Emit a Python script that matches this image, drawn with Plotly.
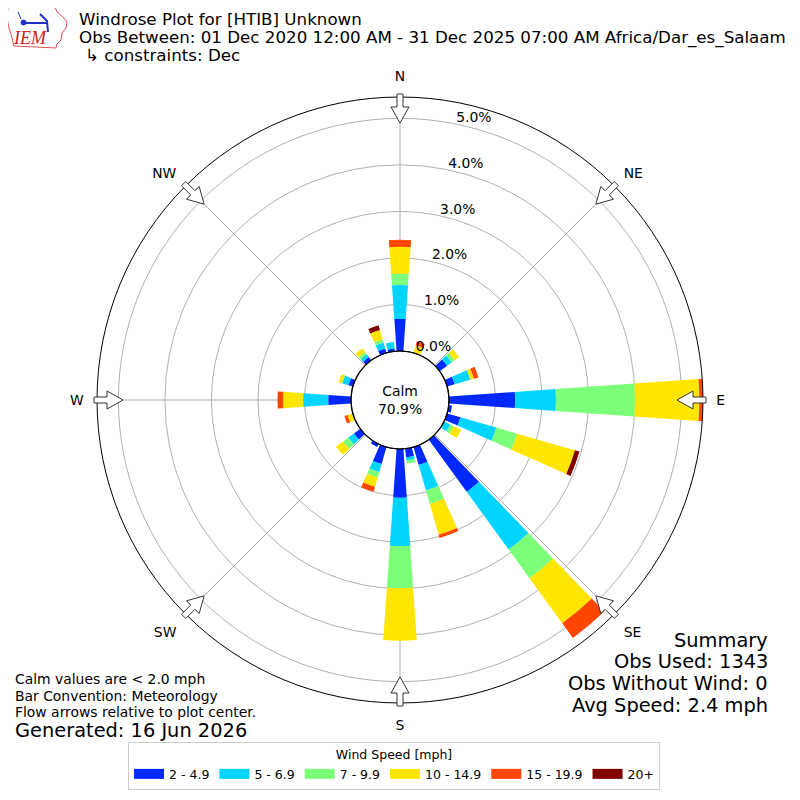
import math
import plotly.graph_objects as go

# wind direction sectors (deg, 0 = N, clockwise)
directions = list(range(0, 360, 10))

speed_bins = ["2 - 4.9", "5 - 6.9", "7 - 9.9", "10 - 14.9", "15 - 19.9", "20+"]
bin_colors = ["#0028ff", "#00d4ff", "#7cff79", "#ffe500", "#ff4600", "#800000"]

# percent of observations in each sector, one list per speed bin
pct_2_5 = [0.69, 0, 0, 0, 0, 0.20, 0, 0.17, 0, 1.42, 0.07, 0.30, 0, 0, 1.39, 0, 0.40, 0.19,
           1.05, 0, 0.38, 0.07, 0, 0.17, 0, 0, 0, 0.49, 0, 0.10, 0, 0, 0.09, 0, 0.10, 0.06]
pct_5_7 = [0.73, 0, 0, 0, 0, 0.12, 0, 0.35, 0, 0.88, 0, 0.80, 0.15, 0, 1.53, 0, 0.57, 0.06,
           1.04, 0, 0.18, 0, 0, 0.15, 0, 0, 0, 0.54, 0, 0.14, 0, 0, 0.07, 0, 0.13, 0.14]
pct_7_10 = [0.24, 0, 0, 0, 0, 0.08, 0, 0, 0, 1.70, 0, 0.47, 0.08, 0, 0.76, 0, 0.30, 0.07,
            0.90, 0, 0.12, 0, 0, 0.14, 0, 0, 0, 0, 0, 0, 0, 0, 0.06, 0, 0.07, 0]
pct_10_15 = [0.58, 0, 0.17, 0, 0, 0.12, 0, 0.08, 0, 1.38, 0, 1.29, 0.18, 0, 1.20, 0, 0.69, 0,
             1.13, 0, 0.21, 0, 0, 0.19, 0, 0.12, 0, 0.43, 0, 0.08, 0, 0, 0.10, 0, 0.21, 0]
pct_15_20 = [0.15, 0, 0.09, 0, 0, 0, 0, 0.10, 0, 0.08, 0, 0, 0, 0, 0.39, 0, 0.07, 0,
             0, 0, 0.11, 0, 0, 0, 0, 0.07, 0, 0.12, 0, 0, 0, 0, 0, 0, 0, 0]
pct_20_up = [0, 0, 0, 0, 0, 0, 0, 0, 0, 0, 0, 0.10, 0, 0, 0, 0, 0, 0,
             0, 0, 0, 0, 0, 0, 0, 0, 0, 0, 0, 0, 0, 0, 0, 0, 0.11, 0]

compass_vals = [0, 45, 90, 135, 180, 225, 270, 315]
compass_text = ["N", "NE", "E", "SE", "S", "SW", "W", "NW"]
rticks = [0, 1, 2, 3, 4, 5]

calm_pct = 70.9
obs_used = 1343
obs_nowind = 0
avg_speed = 2.4

all_bins = [pct_2_5, pct_5_7, pct_7_10, pct_10_15, pct_15_20, pct_20_up]

# page has an 8px body margin, so the figure is 784 wide and starts at 8
OFF = 8
W = 784


def P(x, y):
    # picture pixel -> paper coords
    return (x - OFF) / W, 1 - (y - OFF) / W


fig = go.Figure()
for name, color, vals in zip(speed_bins, bin_colors, all_bins):
    fig.add_trace(go.Barpolar(r=vals, theta=directions, width=8, name=name, showlegend=False,
                              marker=dict(color=color, line=dict(width=0))))
# legend swatches (wide patches like the original)
for name, color in zip(speed_bins, bin_colors):
    fig.add_trace(go.Scatterpolar(r=[None], theta=[None], mode="lines", name=name,
                                  line=dict(color=color, width=11)))

R_OUT = 303
HOLE = 49 / R_OUT
dom = [(400 - OFF - R_OUT) / W, (400 - OFF + R_OUT) / W]
rmax = max(sum(v[i] for v in all_bins) for i in range(len(directions)))
RANGLE = 80

fig.update_layout(
    width=W, height=W,
    margin=dict(l=0, r=0, t=0, b=0),
    paper_bgcolor="white",
    font=dict(family="DejaVu Sans", color="black", size=13.9),
    polar=dict(
        domain=dict(x=dom, y=dom),
        hole=HOLE,
        bgcolor="white",
        barmode="stack",
        radialaxis=dict(range=[0, rmax], tickmode="array", tickvals=rticks,
                        ticktext=[f"{v:.1f}%<br>\u00a0" for v in rticks],
                        angle=RANGLE, tickangle=RANGLE, showline=False, ticks="",
                        gridcolor="#b0b0b0", gridwidth=1, tickfont=dict(size=13.9)),
        angularaxis=dict(rotation=90, direction="clockwise", tickvals=compass_vals,
                         ticktext=compass_text, ticks="outside", ticklen=10,
                         tickcolor="rgba(0,0,0,0)", showline=True, linecolor="black",
                         linewidth=1, gridcolor="#b0b0b0", gridwidth=1,
                         tickfont=dict(size=13.9)),
    ),
    legend=dict(orientation="h", x=0.4924, xanchor="center", y=P(0, 790)[1], yanchor="bottom",
                bordercolor="#cccccc", borderwidth=1, font=dict(size=12.5),
                title=dict(text="Wind Speed [mph]", side="top center", font=dict(size=12.5)),
                itemwidth=30),
)

# calm circle at the hole edge
hr = HOLE * R_OUT / W
fig.add_shape(type="circle", xref="paper", yref="paper", x0=0.5 - hr, x1=0.5 + hr,
              y0=0.5 - hr, y1=0.5 + hr, line=dict(color="black", width=1.2), layer="above")

# hollow flow arrows at the compass points
arrow_uv = [(277, 0), (293, 9), (293, 3), (306, 3), (306, -3), (293, -3), (293, -9)]
for ang in compass_vals:
    t = math.radians(ang)
    pts = []
    for u, v in arrow_uv:
        px = 400 + u * math.sin(t) + v * math.cos(t)
        py = 400 - u * math.cos(t) + v * math.sin(t)
        pts.append(P(px, py))
    path = "M " + " L ".join(f"{x:.5f},{y:.5f}" for x, y in pts) + " Z"
    fig.add_shape(type="path", path=path, xref="paper", yref="paper",
                  fillcolor="white", line=dict(color="#333333", width=1), layer="above")


def note(text, x, y, size, xanchor="left", **kw):
    px, py = P(x, y)
    fig.add_annotation(text=text, x=px, y=py, xref="paper", yref="paper",
                       xanchor=xanchor, yanchor="middle", showarrow=False,
                       font=dict(size=size, family="DejaVu Sans", color="black"), **kw)


note("Windrose Plot for [HTIB] Unknown", 77, 19, 16.7)
note("Obs Between: 01 Dec 2020 12:00 AM - 31 Dec 2025 07:00 AM Africa/Dar_es_Salaam", 77, 37, 16.7)
note("↳ constraints: Dec", 83, 55, 16.7)

note(f"Calm<br>{calm_pct}%", 400, 400, 13.9, xanchor="center")

note("Calm values are < 2.0 mph", 13, 679, 13.9)
note("Bar Convention: Meteorology", 13, 696, 13.9)
note("Flow arrows relative to plot center.", 13, 712, 13.9)
note("Generated: 16 Jun 2026", 13, 730, 19.4)

note("Summary", 770, 640, 19.4, xanchor="right")
note(f"Obs Used: {obs_used}", 770, 661, 19.4, xanchor="right")
note(f"Obs Without Wind: {obs_nowind}", 770, 683, 19.4, xanchor="right")
note(f"Avg Speed: {avg_speed} mph", 770, 705, 19.4, xanchor="right")


# IEM logo (rough)
def pathstr(pts, close=True):
    s = "M " + " L ".join("{:.5f},{:.5f}".format(*P(x, y)) for x, y in pts)
    return s + (" Z" if close else "")


iowa = [(8, 7), (55, 7), (57, 12), (63, 17), (67, 22), (66, 28), (62, 33), (61, 40), (57, 44),
        (56, 48), (14, 46), (12, 38), (9, 28), (7, 18)]
fig.add_shape(type="path", xref="paper", yref="paper", line=dict(color="#e05050", width=1),
              path=pathstr(iowa))
fig.add_shape(type="path", xref="paper", yref="paper", line=dict(color="#2030c0", width=2),
              path=pathstr([(24, 23), (47, 23)], close=False))
fig.add_shape(type="path", xref="paper", yref="paper", line=dict(color="#2030c0", width=2),
              path=pathstr([(40, 14), (47, 21), (48, 32)], close=False))
fig.add_shape(type="path", xref="paper", yref="paper", line=dict(color="#2030c0", width=1),
              path=pathstr([(18, 12), (21, 19)], close=False))
fig.add_shape(type="circle", xref="paper", yref="paper", fillcolor="#2030c0",
              line=dict(color="#2030c0", width=1),
              x0=P(21, 0)[0], x1=P(26, 0)[0], y0=P(0, 25)[1], y1=P(0, 20)[1])
fig.add_annotation(text="<i>IEM</i>", x=P(30, 0)[0], y=P(0, 38)[1], xref="paper", yref="paper",
                   xanchor="center", yanchor="middle", showarrow=False,
                   font=dict(size=18, family="Liberation Serif", color="#d02020"))

fig.write_html("out.html")
